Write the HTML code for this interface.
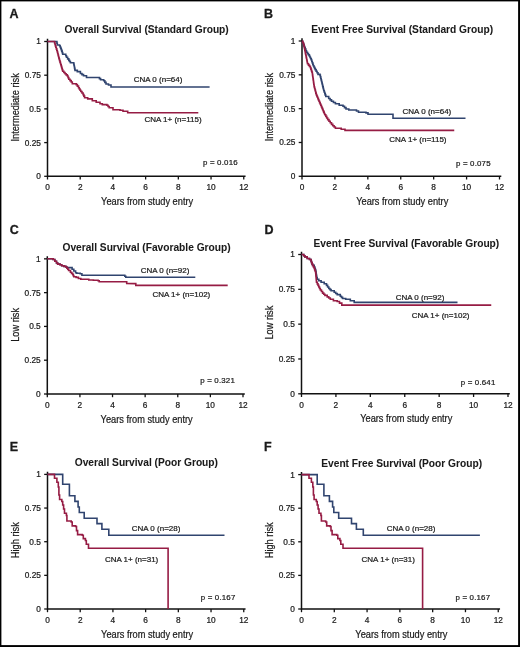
<!DOCTYPE html>
<html><head><meta charset="utf-8"><style>
html,body{margin:0;padding:0;background:#fff;}
body{width:520px;height:647px;overflow:hidden;position:relative;}
svg{position:absolute;left:0;top:0;font-family:"Liberation Sans", sans-serif;will-change:transform;}
</style></head><body>
<svg width="520" height="647" viewBox="0 0 520 647">
<text x="14.00" y="17.60" font-size="12.5" font-weight="bold" text-anchor="middle" fill="#1a1a1a" stroke="#1a1a1a" stroke-width="0.3">A</text>
<text x="146.65" y="33.00" font-size="10.2" font-weight="bold" text-anchor="middle" fill="#1a1a1a" stroke="#1a1a1a" stroke-width="0.05">Overall Survival (Standard Group)</text>
<path d="M47.50,38.80 V176.30 H245.55" fill="none" stroke="#111" stroke-width="1.5" stroke-linejoin="miter" stroke-linecap="butt"/>
<path d="M44.20,176.30 H47.50" fill="none" stroke="#111" stroke-width="1.3" stroke-linejoin="miter" stroke-linecap="butt"/>
<text x="40.90" y="179.20" font-size="8.3" font-weight="normal" text-anchor="end" fill="#1a1a1a" stroke="#1a1a1a" stroke-width="0.22">0</text>
<path d="M44.20,142.60 H47.50" fill="none" stroke="#111" stroke-width="1.3" stroke-linejoin="miter" stroke-linecap="butt"/>
<text x="40.90" y="145.50" font-size="8.3" font-weight="normal" text-anchor="end" fill="#1a1a1a" stroke="#1a1a1a" stroke-width="0.22">0.25</text>
<path d="M44.20,108.90 H47.50" fill="none" stroke="#111" stroke-width="1.3" stroke-linejoin="miter" stroke-linecap="butt"/>
<text x="40.90" y="111.80" font-size="8.3" font-weight="normal" text-anchor="end" fill="#1a1a1a" stroke="#1a1a1a" stroke-width="0.22">0.5</text>
<path d="M44.20,75.20 H47.50" fill="none" stroke="#111" stroke-width="1.3" stroke-linejoin="miter" stroke-linecap="butt"/>
<text x="40.90" y="78.10" font-size="8.3" font-weight="normal" text-anchor="end" fill="#1a1a1a" stroke="#1a1a1a" stroke-width="0.22">0.75</text>
<path d="M44.20,41.50 H47.50" fill="none" stroke="#111" stroke-width="1.3" stroke-linejoin="miter" stroke-linecap="butt"/>
<text x="40.90" y="44.40" font-size="8.3" font-weight="normal" text-anchor="end" fill="#1a1a1a" stroke="#1a1a1a" stroke-width="0.22">1</text>
<path d="M47.50,176.30 V179.50" fill="none" stroke="#111" stroke-width="1.3" stroke-linejoin="miter" stroke-linecap="butt"/>
<text x="47.50" y="190.30" font-size="8.3" font-weight="normal" text-anchor="middle" fill="#1a1a1a" stroke="#1a1a1a" stroke-width="0.22">0</text>
<path d="M80.21,176.30 V179.50" fill="none" stroke="#111" stroke-width="1.3" stroke-linejoin="miter" stroke-linecap="butt"/>
<text x="80.21" y="190.30" font-size="8.3" font-weight="normal" text-anchor="middle" fill="#1a1a1a" stroke="#1a1a1a" stroke-width="0.22">2</text>
<path d="M112.92,176.30 V179.50" fill="none" stroke="#111" stroke-width="1.3" stroke-linejoin="miter" stroke-linecap="butt"/>
<text x="112.92" y="190.30" font-size="8.3" font-weight="normal" text-anchor="middle" fill="#1a1a1a" stroke="#1a1a1a" stroke-width="0.22">4</text>
<path d="M145.62,176.30 V179.50" fill="none" stroke="#111" stroke-width="1.3" stroke-linejoin="miter" stroke-linecap="butt"/>
<text x="145.62" y="190.30" font-size="8.3" font-weight="normal" text-anchor="middle" fill="#1a1a1a" stroke="#1a1a1a" stroke-width="0.22">6</text>
<path d="M178.33,176.30 V179.50" fill="none" stroke="#111" stroke-width="1.3" stroke-linejoin="miter" stroke-linecap="butt"/>
<text x="178.33" y="190.30" font-size="8.3" font-weight="normal" text-anchor="middle" fill="#1a1a1a" stroke="#1a1a1a" stroke-width="0.22">8</text>
<path d="M211.04,176.30 V179.50" fill="none" stroke="#111" stroke-width="1.3" stroke-linejoin="miter" stroke-linecap="butt"/>
<text x="211.04" y="190.30" font-size="8.3" font-weight="normal" text-anchor="middle" fill="#1a1a1a" stroke="#1a1a1a" stroke-width="0.22">10</text>
<path d="M243.75,176.30 V179.50" fill="none" stroke="#111" stroke-width="1.3" stroke-linejoin="miter" stroke-linecap="butt"/>
<text x="243.75" y="190.30" font-size="8.3" font-weight="normal" text-anchor="middle" fill="#1a1a1a" stroke="#1a1a1a" stroke-width="0.22">12</text>
<text transform="translate(147.12,204.90) scale(0.89,1)" font-size="10.4" font-weight="normal" text-anchor="middle" fill="#1a1a1a" stroke="#1a1a1a" stroke-width="0.22">Years from study entry</text>
<text transform="translate(18.60,107.40) rotate(-90) scale(0.89,1)" font-size="10.4" text-anchor="middle" fill="#1a1a1a" stroke="#1a1a1a" stroke-width="0.22">Intermediate risk</text>
<path d="M47.50,41.50 L56.50,41.50 L56.90,41.50 L56.90,43.25 L57.30,43.25 L57.30,45.00 L59.60,45.00 L59.60,45.80 L60.13,45.80 L60.13,47.07 L60.67,47.07 L60.67,48.33 L61.20,48.33 L61.20,49.60 L61.70,49.60 L61.70,51.13 L62.20,51.13 L62.20,52.67 L62.70,52.67 L62.70,54.20 L65.00,54.20 L65.75,54.20 L65.75,55.75 L66.50,55.75 L66.50,57.30 L67.65,57.30 L67.65,58.85 L68.80,58.85 L68.80,60.40 L69.60,60.40 L69.60,61.55 L70.40,61.55 L70.40,62.70 L73.50,62.70 L73.75,62.70 L73.75,63.98 L74.00,63.98 L74.00,65.27 L74.25,65.27 L74.25,66.55 L74.50,66.55 L74.50,67.83 L74.75,67.83 L74.75,69.12 L75.00,69.12 L75.00,70.40 L77.30,70.40 L77.30,71.60 L80.40,71.60 L80.40,73.50 L81.95,73.50 L81.95,74.65 L83.50,74.65 L83.50,75.80 L86.50,75.80 L86.50,77.50 L98.30,77.50 L99.45,77.50 L99.45,78.65 L100.60,78.65 L100.60,79.80 L103.70,79.80 L103.70,80.80 L104.85,80.80 L104.85,82.40 L106.00,82.40 L106.00,84.00 L108.50,84.00 L108.50,85.00 L111.00,85.00 L111.00,87.00 L209.60,87.00" fill="none" stroke="#30446f" stroke-width="1.6" stroke-linejoin="miter" stroke-linecap="butt"/>
<path d="M47.50,41.50 L54.20,41.50 L54.60,41.50 L54.60,42.95 L55.00,42.95 L55.00,44.40 L55.40,44.40 L55.40,45.85 L55.80,45.85 L55.80,47.30 L56.30,47.30 L56.30,48.87 L56.80,48.87 L56.80,50.43 L57.30,50.43 L57.30,52.00 L57.67,52.00 L57.67,53.50 L58.05,53.50 L58.05,55.00 L58.42,55.00 L58.42,56.50 L58.80,56.50 L58.80,58.00 L59.20,58.00 L59.20,59.38 L59.60,59.38 L59.60,60.75 L60.00,60.75 L60.00,62.12 L60.40,62.12 L60.40,63.50 L60.78,63.50 L60.78,64.78 L61.17,64.78 L61.17,66.07 L61.55,66.07 L61.55,67.35 L61.93,67.35 L61.93,68.63 L62.32,68.63 L62.32,69.92 L62.70,69.92 L62.70,71.20 L63.85,71.20 L63.85,72.50 L65.00,72.50 L65.00,73.80 L66.15,73.80 L66.15,74.90 L67.30,74.90 L67.30,76.00 L68.05,76.00 L68.05,77.60 L68.80,77.60 L68.80,79.20 L70.00,79.20 L70.00,80.60 L71.20,80.60 L71.20,82.00 L72.30,82.00 L72.30,83.80 L76.20,83.80 L76.20,84.60 L77.35,84.60 L77.35,86.15 L78.50,86.15 L78.50,87.70 L79.27,87.70 L79.27,88.97 L80.03,88.97 L80.03,90.23 L80.80,90.23 L80.80,91.50 L81.95,91.50 L81.95,93.05 L83.10,93.05 L83.10,94.60 L83.85,94.60 L83.85,96.15 L84.60,96.15 L84.60,97.70 L87.70,97.70 L87.70,98.90 L92.30,98.90 L92.30,100.80 L96.20,100.80 L96.20,102.30 L100.00,102.30 L100.00,103.80 L102.30,103.80 L102.30,104.60 L106.90,104.60 L106.90,105.20 L108.05,105.20 L108.05,106.45 L109.20,106.45 L109.20,107.70 L113.00,107.70 L113.00,109.70 L120.00,109.70 L120.00,110.30 L123.00,110.30 L123.00,111.20 L127.70,111.20 L127.70,112.80 L198.30,112.80" fill="none" stroke="#961c44" stroke-width="1.6" stroke-linejoin="miter" stroke-linecap="butt"/>
<text x="158.05" y="81.60" font-size="8.0" font-weight="normal" text-anchor="middle" fill="#1a1a1a" stroke="#1a1a1a" stroke-width="0.22">CNA 0 (n=64)</text>
<text x="173.00" y="122.30" font-size="8.0" font-weight="normal" text-anchor="middle" fill="#1a1a1a" stroke="#1a1a1a" stroke-width="0.22">CNA 1+ (n=115)</text>
<text x="220.40" y="165.00" font-size="7.9" font-weight="normal" text-anchor="middle" fill="#1a1a1a" letter-spacing="0.18" stroke="#1a1a1a" stroke-width="0.22">p = 0.016</text>
<text x="268.45" y="17.60" font-size="12.5" font-weight="bold" text-anchor="middle" fill="#1a1a1a" stroke="#1a1a1a" stroke-width="0.3">B</text>
<text x="402.20" y="32.80" font-size="10.2" font-weight="bold" text-anchor="middle" fill="#1a1a1a" stroke="#1a1a1a" stroke-width="0.05">Event Free Survival (Standard Group)</text>
<path d="M302.00,38.30 V176.30 H501.30" fill="none" stroke="#111" stroke-width="1.5" stroke-linejoin="miter" stroke-linecap="butt"/>
<path d="M298.70,176.30 H302.00" fill="none" stroke="#111" stroke-width="1.3" stroke-linejoin="miter" stroke-linecap="butt"/>
<text x="295.40" y="179.20" font-size="8.3" font-weight="normal" text-anchor="end" fill="#1a1a1a" stroke="#1a1a1a" stroke-width="0.22">0</text>
<path d="M298.70,142.48 H302.00" fill="none" stroke="#111" stroke-width="1.3" stroke-linejoin="miter" stroke-linecap="butt"/>
<text x="295.40" y="145.38" font-size="8.3" font-weight="normal" text-anchor="end" fill="#1a1a1a" stroke="#1a1a1a" stroke-width="0.22">0.25</text>
<path d="M298.70,108.65 H302.00" fill="none" stroke="#111" stroke-width="1.3" stroke-linejoin="miter" stroke-linecap="butt"/>
<text x="295.40" y="111.55" font-size="8.3" font-weight="normal" text-anchor="end" fill="#1a1a1a" stroke="#1a1a1a" stroke-width="0.22">0.5</text>
<path d="M298.70,74.83 H302.00" fill="none" stroke="#111" stroke-width="1.3" stroke-linejoin="miter" stroke-linecap="butt"/>
<text x="295.40" y="77.73" font-size="8.3" font-weight="normal" text-anchor="end" fill="#1a1a1a" stroke="#1a1a1a" stroke-width="0.22">0.75</text>
<path d="M298.70,41.00 H302.00" fill="none" stroke="#111" stroke-width="1.3" stroke-linejoin="miter" stroke-linecap="butt"/>
<text x="295.40" y="43.90" font-size="8.3" font-weight="normal" text-anchor="end" fill="#1a1a1a" stroke="#1a1a1a" stroke-width="0.22">1</text>
<path d="M302.00,176.30 V179.50" fill="none" stroke="#111" stroke-width="1.3" stroke-linejoin="miter" stroke-linecap="butt"/>
<text x="302.00" y="190.30" font-size="8.3" font-weight="normal" text-anchor="middle" fill="#1a1a1a" stroke="#1a1a1a" stroke-width="0.22">0</text>
<path d="M334.92,176.30 V179.50" fill="none" stroke="#111" stroke-width="1.3" stroke-linejoin="miter" stroke-linecap="butt"/>
<text x="334.92" y="190.30" font-size="8.3" font-weight="normal" text-anchor="middle" fill="#1a1a1a" stroke="#1a1a1a" stroke-width="0.22">2</text>
<path d="M367.83,176.30 V179.50" fill="none" stroke="#111" stroke-width="1.3" stroke-linejoin="miter" stroke-linecap="butt"/>
<text x="367.83" y="190.30" font-size="8.3" font-weight="normal" text-anchor="middle" fill="#1a1a1a" stroke="#1a1a1a" stroke-width="0.22">4</text>
<path d="M400.75,176.30 V179.50" fill="none" stroke="#111" stroke-width="1.3" stroke-linejoin="miter" stroke-linecap="butt"/>
<text x="400.75" y="190.30" font-size="8.3" font-weight="normal" text-anchor="middle" fill="#1a1a1a" stroke="#1a1a1a" stroke-width="0.22">6</text>
<path d="M433.67,176.30 V179.50" fill="none" stroke="#111" stroke-width="1.3" stroke-linejoin="miter" stroke-linecap="butt"/>
<text x="433.67" y="190.30" font-size="8.3" font-weight="normal" text-anchor="middle" fill="#1a1a1a" stroke="#1a1a1a" stroke-width="0.22">8</text>
<path d="M466.58,176.30 V179.50" fill="none" stroke="#111" stroke-width="1.3" stroke-linejoin="miter" stroke-linecap="butt"/>
<text x="466.58" y="190.30" font-size="8.3" font-weight="normal" text-anchor="middle" fill="#1a1a1a" stroke="#1a1a1a" stroke-width="0.22">10</text>
<path d="M499.50,176.30 V179.50" fill="none" stroke="#111" stroke-width="1.3" stroke-linejoin="miter" stroke-linecap="butt"/>
<text x="499.50" y="190.30" font-size="8.3" font-weight="normal" text-anchor="middle" fill="#1a1a1a" stroke="#1a1a1a" stroke-width="0.22">12</text>
<text transform="translate(402.25,204.90) scale(0.89,1)" font-size="10.4" font-weight="normal" text-anchor="middle" fill="#1a1a1a" stroke="#1a1a1a" stroke-width="0.22">Years from study entry</text>
<text transform="translate(273.10,107.15) rotate(-90) scale(0.89,1)" font-size="10.4" text-anchor="middle" fill="#1a1a1a" stroke="#1a1a1a" stroke-width="0.22">Intermediate risk</text>
<path d="M302.00,41.00 L302.52,41.00 L302.52,42.30 L303.04,42.30 L303.04,43.60 L303.56,43.60 L303.56,44.90 L304.08,44.90 L304.08,46.20 L304.60,46.20 L304.60,47.50 L305.23,47.50 L305.23,49.10 L305.87,49.10 L305.87,50.70 L306.50,50.70 L306.50,52.30 L307.47,52.30 L307.47,53.60 L308.43,53.60 L308.43,54.90 L309.40,54.90 L309.40,56.20 L310.03,56.20 L310.03,57.47 L310.67,57.47 L310.67,58.73 L311.30,58.73 L311.30,60.00 L311.80,60.00 L311.80,61.45 L312.30,61.45 L312.30,62.90 L312.80,62.90 L312.80,64.35 L313.30,64.35 L313.30,65.80 L313.93,65.80 L313.93,67.07 L314.57,67.07 L314.57,68.33 L315.20,68.33 L315.20,69.60 L316.13,69.60 L316.13,71.20 L317.07,71.20 L317.07,72.80 L318.00,72.80 L318.00,74.40 L320.00,74.40 L320.00,75.40 L320.38,75.40 L320.38,76.92 L320.76,76.92 L320.76,78.44 L321.14,78.44 L321.14,79.96 L321.52,79.96 L321.52,81.48 L321.90,81.48 L321.90,83.00 L322.22,83.00 L322.22,84.30 L322.53,84.30 L322.53,85.60 L322.85,85.60 L322.85,86.90 L323.17,86.90 L323.17,88.20 L323.48,88.20 L323.48,89.50 L323.80,89.50 L323.80,90.80 L324.30,90.80 L324.30,92.22 L324.80,92.22 L324.80,93.65 L325.30,93.65 L325.30,95.08 L325.80,95.08 L325.80,96.50 L328.70,96.50 L328.70,98.50 L330.10,98.50 L330.10,99.90 L331.50,99.90 L331.50,101.30 L333.45,101.30 L333.45,102.55 L335.40,102.55 L335.40,103.80 L339.20,103.80 L339.20,105.20 L343.00,105.20 L343.00,106.20 L344.50,106.20 L344.50,107.60 L346.00,107.60 L346.00,109.00 L348.80,109.00 L348.80,110.00 L356.50,110.00 L356.50,111.00 L358.50,111.00 L358.50,112.30 L366.00,112.30 L366.00,112.90 L368.00,112.90 L368.00,114.20 L393.00,114.20 L393.00,118.25 L465.50,118.25" fill="none" stroke="#30446f" stroke-width="1.6" stroke-linejoin="miter" stroke-linecap="butt"/>
<path d="M302.00,41.00 L302.57,41.00 L302.57,42.20 L303.13,42.20 L303.13,43.40 L303.70,43.40 L303.70,44.60 L303.97,44.60 L303.97,45.97 L304.24,45.97 L304.24,47.34 L304.51,47.34 L304.51,48.71 L304.79,48.71 L304.79,50.09 L305.06,50.09 L305.06,51.46 L305.33,51.46 L305.33,52.83 L305.60,52.83 L305.60,54.20 L305.87,54.20 L305.87,55.57 L306.14,55.57 L306.14,56.94 L306.41,56.94 L306.41,58.31 L306.69,58.31 L306.69,59.69 L306.96,59.69 L306.96,61.06 L307.23,61.06 L307.23,62.43 L307.50,62.43 L307.50,63.80 L308.47,63.80 L308.47,65.10 L309.43,65.10 L309.43,66.40 L310.40,66.40 L310.40,67.70 L310.88,67.70 L310.88,69.15 L311.35,69.15 L311.35,70.60 L311.82,70.60 L311.82,72.05 L312.30,72.05 L312.30,73.50 L312.49,73.50 L312.49,74.85 L312.68,74.85 L312.68,76.20 L312.87,76.20 L312.87,77.55 L313.06,77.55 L313.06,78.90 L313.25,78.90 L313.25,80.25 L313.44,80.25 L313.44,81.60 L313.63,81.60 L313.63,82.95 L313.82,82.95 L313.82,84.30 L314.01,84.30 L314.01,85.65 L314.20,85.65 L314.20,87.00 L314.60,87.00 L314.60,88.52 L315.00,88.52 L315.00,90.04 L315.40,90.04 L315.40,91.56 L315.80,91.56 L315.80,93.08 L316.20,93.08 L316.20,94.60 L316.76,94.60 L316.76,95.94 L317.32,95.94 L317.32,97.28 L317.88,97.28 L317.88,98.62 L318.44,98.62 L318.44,99.96 L319.00,99.96 L319.00,101.30 L319.58,101.30 L319.58,102.64 L320.16,102.64 L320.16,103.98 L320.74,103.98 L320.74,105.32 L321.32,105.32 L321.32,106.66 L321.90,106.66 L321.90,108.00 L322.48,108.00 L322.48,109.36 L323.06,109.36 L323.06,110.72 L323.64,110.72 L323.64,112.08 L324.22,112.08 L324.22,113.44 L324.80,113.44 L324.80,114.80 L325.77,114.80 L325.77,116.40 L326.73,116.40 L326.73,118.00 L327.70,118.00 L327.70,119.60 L328.97,119.60 L328.97,121.20 L330.23,121.20 L330.23,122.80 L331.50,122.80 L331.50,124.40 L332.80,124.40 L332.80,125.70 L334.10,125.70 L334.10,127.00 L335.40,127.00 L335.40,128.30 L341.20,128.30 L341.20,129.20 L345.00,129.20 L345.00,130.40 L454.25,130.40" fill="none" stroke="#961c44" stroke-width="1.6" stroke-linejoin="miter" stroke-linecap="butt"/>
<text x="426.90" y="114.10" font-size="8.0" font-weight="normal" text-anchor="middle" fill="#1a1a1a" stroke="#1a1a1a" stroke-width="0.22">CNA 0 (n=64)</text>
<text x="417.90" y="141.60" font-size="8.0" font-weight="normal" text-anchor="middle" fill="#1a1a1a" stroke="#1a1a1a" stroke-width="0.22">CNA 1+ (n=115)</text>
<text x="473.35" y="165.90" font-size="7.9" font-weight="normal" text-anchor="middle" fill="#1a1a1a" letter-spacing="0.18" stroke="#1a1a1a" stroke-width="0.22">p = 0.075</text>
<text x="14.15" y="233.50" font-size="12.5" font-weight="bold" text-anchor="middle" fill="#1a1a1a" stroke="#1a1a1a" stroke-width="0.3">C</text>
<text x="146.55" y="250.50" font-size="10.2" font-weight="bold" text-anchor="middle" fill="#1a1a1a" stroke="#1a1a1a" stroke-width="0.05">Overall Survival (Favorable Group)</text>
<path d="M47.30,256.15 V394.00 H244.80" fill="none" stroke="#111" stroke-width="1.5" stroke-linejoin="miter" stroke-linecap="butt"/>
<path d="M44.00,394.00 H47.30" fill="none" stroke="#111" stroke-width="1.3" stroke-linejoin="miter" stroke-linecap="butt"/>
<text x="40.70" y="396.90" font-size="8.3" font-weight="normal" text-anchor="end" fill="#1a1a1a" stroke="#1a1a1a" stroke-width="0.22">0</text>
<path d="M44.00,360.21 H47.30" fill="none" stroke="#111" stroke-width="1.3" stroke-linejoin="miter" stroke-linecap="butt"/>
<text x="40.70" y="363.11" font-size="8.3" font-weight="normal" text-anchor="end" fill="#1a1a1a" stroke="#1a1a1a" stroke-width="0.22">0.25</text>
<path d="M44.00,326.43 H47.30" fill="none" stroke="#111" stroke-width="1.3" stroke-linejoin="miter" stroke-linecap="butt"/>
<text x="40.70" y="329.32" font-size="8.3" font-weight="normal" text-anchor="end" fill="#1a1a1a" stroke="#1a1a1a" stroke-width="0.22">0.5</text>
<path d="M44.00,292.64 H47.30" fill="none" stroke="#111" stroke-width="1.3" stroke-linejoin="miter" stroke-linecap="butt"/>
<text x="40.70" y="295.54" font-size="8.3" font-weight="normal" text-anchor="end" fill="#1a1a1a" stroke="#1a1a1a" stroke-width="0.22">0.75</text>
<path d="M44.00,258.85 H47.30" fill="none" stroke="#111" stroke-width="1.3" stroke-linejoin="miter" stroke-linecap="butt"/>
<text x="40.70" y="261.75" font-size="8.3" font-weight="normal" text-anchor="end" fill="#1a1a1a" stroke="#1a1a1a" stroke-width="0.22">1</text>
<path d="M47.30,394.00 V397.20" fill="none" stroke="#111" stroke-width="1.3" stroke-linejoin="miter" stroke-linecap="butt"/>
<text x="47.30" y="408.00" font-size="8.3" font-weight="normal" text-anchor="middle" fill="#1a1a1a" stroke="#1a1a1a" stroke-width="0.22">0</text>
<path d="M79.92,394.00 V397.20" fill="none" stroke="#111" stroke-width="1.3" stroke-linejoin="miter" stroke-linecap="butt"/>
<text x="79.92" y="408.00" font-size="8.3" font-weight="normal" text-anchor="middle" fill="#1a1a1a" stroke="#1a1a1a" stroke-width="0.22">2</text>
<path d="M112.53,394.00 V397.20" fill="none" stroke="#111" stroke-width="1.3" stroke-linejoin="miter" stroke-linecap="butt"/>
<text x="112.53" y="408.00" font-size="8.3" font-weight="normal" text-anchor="middle" fill="#1a1a1a" stroke="#1a1a1a" stroke-width="0.22">4</text>
<path d="M145.15,394.00 V397.20" fill="none" stroke="#111" stroke-width="1.3" stroke-linejoin="miter" stroke-linecap="butt"/>
<text x="145.15" y="408.00" font-size="8.3" font-weight="normal" text-anchor="middle" fill="#1a1a1a" stroke="#1a1a1a" stroke-width="0.22">6</text>
<path d="M177.77,394.00 V397.20" fill="none" stroke="#111" stroke-width="1.3" stroke-linejoin="miter" stroke-linecap="butt"/>
<text x="177.77" y="408.00" font-size="8.3" font-weight="normal" text-anchor="middle" fill="#1a1a1a" stroke="#1a1a1a" stroke-width="0.22">8</text>
<path d="M210.38,394.00 V397.20" fill="none" stroke="#111" stroke-width="1.3" stroke-linejoin="miter" stroke-linecap="butt"/>
<text x="210.38" y="408.00" font-size="8.3" font-weight="normal" text-anchor="middle" fill="#1a1a1a" stroke="#1a1a1a" stroke-width="0.22">10</text>
<path d="M243.00,394.00 V397.20" fill="none" stroke="#111" stroke-width="1.3" stroke-linejoin="miter" stroke-linecap="butt"/>
<text x="243.00" y="408.00" font-size="8.3" font-weight="normal" text-anchor="middle" fill="#1a1a1a" stroke="#1a1a1a" stroke-width="0.22">12</text>
<text transform="translate(146.65,422.60) scale(0.89,1)" font-size="10.4" font-weight="normal" text-anchor="middle" fill="#1a1a1a" stroke="#1a1a1a" stroke-width="0.22">Years from study entry</text>
<text transform="translate(18.60,324.93) rotate(-90) scale(0.89,1)" font-size="10.4" text-anchor="middle" fill="#1a1a1a" stroke="#1a1a1a" stroke-width="0.22">Low risk</text>
<path d="M47.30,258.80 L50.80,258.80 L53.10,258.80 L53.10,259.50 L54.80,259.50 L54.80,261.20 L56.50,261.20 L56.50,263.00 L57.70,263.00 L57.70,264.10 L60.00,264.10 L60.00,264.70 L61.70,264.70 L61.70,265.80 L64.00,265.80 L64.00,266.40 L65.80,266.40 L65.80,267.00 L66.90,267.00 L66.90,267.60 L70.40,267.60 L72.10,267.60 L72.10,269.30 L73.80,269.30 L73.80,271.00 L75.60,271.00 L75.60,272.80 L76.70,272.80 L76.70,273.30 L80.20,273.30 L80.20,273.70 L81.90,273.70 L81.90,275.20 L123.80,275.20 L124.80,275.20 L124.80,276.25 L125.80,276.25 L125.80,277.30 L195.30,277.30" fill="none" stroke="#30446f" stroke-width="1.6" stroke-linejoin="miter" stroke-linecap="butt"/>
<path d="M47.30,258.80 L50.80,258.80 L53.10,258.80 L53.10,259.50 L54.80,259.50 L54.80,261.20 L56.50,261.20 L56.50,263.00 L57.70,263.00 L57.70,264.10 L60.00,264.10 L60.00,264.70 L61.70,264.70 L61.70,265.80 L64.00,265.80 L64.00,266.40 L65.80,266.40 L65.80,267.00 L66.90,267.00 L66.90,268.10 L67.75,268.10 L67.75,269.30 L68.60,269.30 L68.60,270.50 L70.40,270.50 L70.40,272.20 L71.55,272.20 L71.55,273.35 L72.70,273.35 L72.70,274.50 L73.25,274.50 L73.25,275.65 L73.80,275.65 L73.80,276.80 L76.10,276.80 L76.10,277.40 L78.40,277.40 L78.40,278.50 L80.80,278.50 L80.80,279.10 L87.70,279.30 L88.80,279.30 L88.80,280.00 L93.40,280.00 L93.40,280.30 L98.10,280.30 L98.10,280.80 L99.20,280.80 L99.20,281.80 L123.80,281.80 L126.70,281.80 L126.70,283.40 L134.80,283.60 L135.80,283.60 L135.80,285.40 L227.70,285.40" fill="none" stroke="#961c44" stroke-width="1.6" stroke-linejoin="miter" stroke-linecap="butt"/>
<text x="165.00" y="273.00" font-size="8.0" font-weight="normal" text-anchor="middle" fill="#1a1a1a" stroke="#1a1a1a" stroke-width="0.22">CNA 0 (n=92)</text>
<text x="181.35" y="297.30" font-size="8.0" font-weight="normal" text-anchor="middle" fill="#1a1a1a" stroke="#1a1a1a" stroke-width="0.22">CNA 1+ (n=102)</text>
<text x="217.60" y="383.20" font-size="7.9" font-weight="normal" text-anchor="middle" fill="#1a1a1a" letter-spacing="0.18" stroke="#1a1a1a" stroke-width="0.22">p = 0.321</text>
<text x="269.00" y="233.75" font-size="12.5" font-weight="bold" text-anchor="middle" fill="#1a1a1a" stroke="#1a1a1a" stroke-width="0.3">D</text>
<text x="406.40" y="247.10" font-size="10.2" font-weight="bold" text-anchor="middle" fill="#1a1a1a" stroke="#1a1a1a" stroke-width="0.05">Event Free Survival (Favorable Group)</text>
<path d="M301.50,251.80 V393.80 H509.80" fill="none" stroke="#111" stroke-width="1.5" stroke-linejoin="miter" stroke-linecap="butt"/>
<path d="M298.20,393.80 H301.50" fill="none" stroke="#111" stroke-width="1.3" stroke-linejoin="miter" stroke-linecap="butt"/>
<text x="294.90" y="396.70" font-size="8.3" font-weight="normal" text-anchor="end" fill="#1a1a1a" stroke="#1a1a1a" stroke-width="0.22">0</text>
<path d="M298.20,358.98 H301.50" fill="none" stroke="#111" stroke-width="1.3" stroke-linejoin="miter" stroke-linecap="butt"/>
<text x="294.90" y="361.88" font-size="8.3" font-weight="normal" text-anchor="end" fill="#1a1a1a" stroke="#1a1a1a" stroke-width="0.22">0.25</text>
<path d="M298.20,324.15 H301.50" fill="none" stroke="#111" stroke-width="1.3" stroke-linejoin="miter" stroke-linecap="butt"/>
<text x="294.90" y="327.05" font-size="8.3" font-weight="normal" text-anchor="end" fill="#1a1a1a" stroke="#1a1a1a" stroke-width="0.22">0.5</text>
<path d="M298.20,289.32 H301.50" fill="none" stroke="#111" stroke-width="1.3" stroke-linejoin="miter" stroke-linecap="butt"/>
<text x="294.90" y="292.22" font-size="8.3" font-weight="normal" text-anchor="end" fill="#1a1a1a" stroke="#1a1a1a" stroke-width="0.22">0.75</text>
<path d="M298.20,254.50 H301.50" fill="none" stroke="#111" stroke-width="1.3" stroke-linejoin="miter" stroke-linecap="butt"/>
<text x="294.90" y="257.40" font-size="8.3" font-weight="normal" text-anchor="end" fill="#1a1a1a" stroke="#1a1a1a" stroke-width="0.22">1</text>
<path d="M301.50,393.80 V397.00" fill="none" stroke="#111" stroke-width="1.3" stroke-linejoin="miter" stroke-linecap="butt"/>
<text x="301.50" y="407.80" font-size="8.3" font-weight="normal" text-anchor="middle" fill="#1a1a1a" stroke="#1a1a1a" stroke-width="0.22">0</text>
<path d="M335.92,393.80 V397.00" fill="none" stroke="#111" stroke-width="1.3" stroke-linejoin="miter" stroke-linecap="butt"/>
<text x="335.92" y="407.80" font-size="8.3" font-weight="normal" text-anchor="middle" fill="#1a1a1a" stroke="#1a1a1a" stroke-width="0.22">2</text>
<path d="M370.33,393.80 V397.00" fill="none" stroke="#111" stroke-width="1.3" stroke-linejoin="miter" stroke-linecap="butt"/>
<text x="370.33" y="407.80" font-size="8.3" font-weight="normal" text-anchor="middle" fill="#1a1a1a" stroke="#1a1a1a" stroke-width="0.22">4</text>
<path d="M404.75,393.80 V397.00" fill="none" stroke="#111" stroke-width="1.3" stroke-linejoin="miter" stroke-linecap="butt"/>
<text x="404.75" y="407.80" font-size="8.3" font-weight="normal" text-anchor="middle" fill="#1a1a1a" stroke="#1a1a1a" stroke-width="0.22">6</text>
<path d="M439.17,393.80 V397.00" fill="none" stroke="#111" stroke-width="1.3" stroke-linejoin="miter" stroke-linecap="butt"/>
<text x="439.17" y="407.80" font-size="8.3" font-weight="normal" text-anchor="middle" fill="#1a1a1a" stroke="#1a1a1a" stroke-width="0.22">8</text>
<path d="M473.58,393.80 V397.00" fill="none" stroke="#111" stroke-width="1.3" stroke-linejoin="miter" stroke-linecap="butt"/>
<text x="473.58" y="407.80" font-size="8.3" font-weight="normal" text-anchor="middle" fill="#1a1a1a" stroke="#1a1a1a" stroke-width="0.22">10</text>
<path d="M508.00,393.80 V397.00" fill="none" stroke="#111" stroke-width="1.3" stroke-linejoin="miter" stroke-linecap="butt"/>
<text x="508.00" y="407.80" font-size="8.3" font-weight="normal" text-anchor="middle" fill="#1a1a1a" stroke="#1a1a1a" stroke-width="0.22">12</text>
<text transform="translate(406.25,422.40) scale(0.89,1)" font-size="10.4" font-weight="normal" text-anchor="middle" fill="#1a1a1a" stroke="#1a1a1a" stroke-width="0.22">Years from study entry</text>
<text transform="translate(273.10,322.65) rotate(-90) scale(0.89,1)" font-size="10.4" text-anchor="middle" fill="#1a1a1a" stroke="#1a1a1a" stroke-width="0.22">Low risk</text>
<path d="M301.60,254.50 L302.60,254.50 L303.75,254.50 L303.75,255.70 L304.90,255.70 L304.90,256.90 L307.20,256.90 L307.20,258.50 L309.50,258.50 L309.50,259.50 L311.10,259.50 L311.10,261.50 L311.60,261.50 L311.60,262.80 L312.10,262.80 L312.10,264.10 L312.60,264.10 L312.60,265.40 L314.20,265.40 L314.20,266.90 L314.70,266.90 L314.70,268.20 L315.20,268.20 L315.20,269.50 L315.70,269.50 L315.70,270.80 L315.90,270.80 L315.90,272.15 L316.10,272.15 L316.10,273.50 L316.30,273.50 L316.30,274.85 L316.50,274.85 L316.50,276.20 L316.85,276.20 L316.85,277.70 L317.20,277.70 L317.20,279.20 L318.80,279.20 L318.80,280.80 L321.10,280.80 L321.10,282.30 L324.20,282.30 L324.20,283.80 L326.50,283.80 L326.50,285.40 L327.65,285.40 L327.65,286.95 L328.80,286.95 L328.80,288.50 L329.95,288.50 L329.95,289.65 L331.10,289.65 L331.10,290.80 L334.20,290.80 L334.20,292.30 L335.70,292.30 L335.70,293.45 L337.20,293.45 L337.20,294.60 L340.30,294.60 L340.30,296.20 L341.45,296.20 L341.45,297.35 L342.60,297.35 L342.60,298.50 L345.70,298.50 L345.70,299.20 L350.30,299.20 L350.30,300.80 L354.20,300.80 L354.20,302.40 L457.50,302.40" fill="none" stroke="#30446f" stroke-width="1.6" stroke-linejoin="miter" stroke-linecap="butt"/>
<path d="M301.60,254.50 L302.60,254.50 L303.75,254.50 L303.75,255.70 L304.90,255.70 L304.90,256.90 L307.20,256.90 L307.20,258.50 L309.50,258.50 L309.50,259.50 L311.10,259.50 L311.10,261.50 L311.60,261.50 L311.60,262.80 L312.10,262.80 L312.10,264.10 L312.60,264.10 L312.60,265.40 L313.40,265.40 L313.40,266.95 L314.20,266.95 L314.20,268.50 L314.70,268.50 L314.70,270.03 L315.20,270.03 L315.20,271.57 L315.70,271.57 L315.70,273.10 L315.81,273.10 L315.81,274.41 L315.93,274.41 L315.93,275.73 L316.04,275.73 L316.04,277.04 L316.16,277.04 L316.16,278.36 L316.27,278.36 L316.27,279.67 L316.39,279.67 L316.39,280.99 L316.50,280.99 L316.50,282.30 L317.25,282.30 L317.25,283.85 L318.00,283.85 L318.00,285.40 L318.77,285.40 L318.77,286.93 L319.53,286.93 L319.53,288.47 L320.30,288.47 L320.30,290.00 L321.45,290.00 L321.45,291.55 L322.60,291.55 L322.60,293.10 L323.75,293.10 L323.75,294.25 L324.90,294.25 L324.90,295.40 L327.20,295.40 L327.20,296.90 L328.75,296.90 L328.75,298.05 L330.30,298.05 L330.30,299.20 L333.40,299.20 L333.40,300.80 L337.20,300.80 L337.20,301.50 L339.50,301.50 L339.50,303.10 L341.80,303.10 L341.80,305.10 L491.25,305.10" fill="none" stroke="#961c44" stroke-width="1.6" stroke-linejoin="miter" stroke-linecap="butt"/>
<text x="420.00" y="299.50" font-size="8.0" font-weight="normal" text-anchor="middle" fill="#1a1a1a" stroke="#1a1a1a" stroke-width="0.22">CNA 0 (n=92)</text>
<text x="440.60" y="317.75" font-size="8.0" font-weight="normal" text-anchor="middle" fill="#1a1a1a" stroke="#1a1a1a" stroke-width="0.22">CNA 1+ (n=102)</text>
<text x="478.10" y="384.60" font-size="7.9" font-weight="normal" text-anchor="middle" fill="#1a1a1a" letter-spacing="0.18" stroke="#1a1a1a" stroke-width="0.22">p = 0.641</text>
<text x="13.80" y="451.10" font-size="12.5" font-weight="bold" text-anchor="middle" fill="#1a1a1a" stroke="#1a1a1a" stroke-width="0.3">E</text>
<text x="146.35" y="465.60" font-size="10.2" font-weight="bold" text-anchor="middle" fill="#1a1a1a" stroke="#1a1a1a" stroke-width="0.05">Overall Survival (Poor Group)</text>
<path d="M47.50,471.70 V609.00 H245.55" fill="none" stroke="#111" stroke-width="1.5" stroke-linejoin="miter" stroke-linecap="butt"/>
<path d="M44.20,609.00 H47.50" fill="none" stroke="#111" stroke-width="1.3" stroke-linejoin="miter" stroke-linecap="butt"/>
<text x="40.90" y="611.90" font-size="8.3" font-weight="normal" text-anchor="end" fill="#1a1a1a" stroke="#1a1a1a" stroke-width="0.22">0</text>
<path d="M44.20,575.35 H47.50" fill="none" stroke="#111" stroke-width="1.3" stroke-linejoin="miter" stroke-linecap="butt"/>
<text x="40.90" y="578.25" font-size="8.3" font-weight="normal" text-anchor="end" fill="#1a1a1a" stroke="#1a1a1a" stroke-width="0.22">0.25</text>
<path d="M44.20,541.70 H47.50" fill="none" stroke="#111" stroke-width="1.3" stroke-linejoin="miter" stroke-linecap="butt"/>
<text x="40.90" y="544.60" font-size="8.3" font-weight="normal" text-anchor="end" fill="#1a1a1a" stroke="#1a1a1a" stroke-width="0.22">0.5</text>
<path d="M44.20,508.05 H47.50" fill="none" stroke="#111" stroke-width="1.3" stroke-linejoin="miter" stroke-linecap="butt"/>
<text x="40.90" y="510.95" font-size="8.3" font-weight="normal" text-anchor="end" fill="#1a1a1a" stroke="#1a1a1a" stroke-width="0.22">0.75</text>
<path d="M44.20,474.40 H47.50" fill="none" stroke="#111" stroke-width="1.3" stroke-linejoin="miter" stroke-linecap="butt"/>
<text x="40.90" y="477.30" font-size="8.3" font-weight="normal" text-anchor="end" fill="#1a1a1a" stroke="#1a1a1a" stroke-width="0.22">1</text>
<path d="M47.50,609.00 V612.20" fill="none" stroke="#111" stroke-width="1.3" stroke-linejoin="miter" stroke-linecap="butt"/>
<text x="47.50" y="623.00" font-size="8.3" font-weight="normal" text-anchor="middle" fill="#1a1a1a" stroke="#1a1a1a" stroke-width="0.22">0</text>
<path d="M80.21,609.00 V612.20" fill="none" stroke="#111" stroke-width="1.3" stroke-linejoin="miter" stroke-linecap="butt"/>
<text x="80.21" y="623.00" font-size="8.3" font-weight="normal" text-anchor="middle" fill="#1a1a1a" stroke="#1a1a1a" stroke-width="0.22">2</text>
<path d="M112.92,609.00 V612.20" fill="none" stroke="#111" stroke-width="1.3" stroke-linejoin="miter" stroke-linecap="butt"/>
<text x="112.92" y="623.00" font-size="8.3" font-weight="normal" text-anchor="middle" fill="#1a1a1a" stroke="#1a1a1a" stroke-width="0.22">4</text>
<path d="M145.62,609.00 V612.20" fill="none" stroke="#111" stroke-width="1.3" stroke-linejoin="miter" stroke-linecap="butt"/>
<text x="145.62" y="623.00" font-size="8.3" font-weight="normal" text-anchor="middle" fill="#1a1a1a" stroke="#1a1a1a" stroke-width="0.22">6</text>
<path d="M178.33,609.00 V612.20" fill="none" stroke="#111" stroke-width="1.3" stroke-linejoin="miter" stroke-linecap="butt"/>
<text x="178.33" y="623.00" font-size="8.3" font-weight="normal" text-anchor="middle" fill="#1a1a1a" stroke="#1a1a1a" stroke-width="0.22">8</text>
<path d="M211.04,609.00 V612.20" fill="none" stroke="#111" stroke-width="1.3" stroke-linejoin="miter" stroke-linecap="butt"/>
<text x="211.04" y="623.00" font-size="8.3" font-weight="normal" text-anchor="middle" fill="#1a1a1a" stroke="#1a1a1a" stroke-width="0.22">10</text>
<path d="M243.75,609.00 V612.20" fill="none" stroke="#111" stroke-width="1.3" stroke-linejoin="miter" stroke-linecap="butt"/>
<text x="243.75" y="623.00" font-size="8.3" font-weight="normal" text-anchor="middle" fill="#1a1a1a" stroke="#1a1a1a" stroke-width="0.22">12</text>
<text transform="translate(147.12,637.60) scale(0.89,1)" font-size="10.4" font-weight="normal" text-anchor="middle" fill="#1a1a1a" stroke="#1a1a1a" stroke-width="0.22">Years from study entry</text>
<text transform="translate(18.60,540.20) rotate(-90) scale(0.89,1)" font-size="10.4" text-anchor="middle" fill="#1a1a1a" stroke="#1a1a1a" stroke-width="0.22">High risk</text>
<path d="M47.50,474.40 L62.70,474.40 L62.70,484.20 L69.40,484.20 L69.40,495.70 L74.90,495.70 L74.90,501.40 L78.10,501.40 L78.10,507.00 L79.30,507.00 L79.30,512.50 L84.20,512.50 L84.20,518.20 L97.00,518.20 L97.00,523.60 L101.90,523.60 L101.90,529.30 L108.80,529.30 L108.80,535.20 L224.50,535.20" fill="none" stroke="#30446f" stroke-width="1.6" stroke-linejoin="miter" stroke-linecap="butt"/>
<path d="M47.50,474.40 L54.50,474.40 L54.50,478.20 L56.90,478.20 L56.90,482.30 L58.30,482.30 L58.30,487.00 L58.90,487.00 L58.90,495.00 L59.60,495.00 L59.60,499.50 L61.80,499.50 L61.80,501.50 L62.70,501.50 L62.70,505.00 L63.60,505.00 L63.60,509.00 L64.50,509.00 L64.50,513.20 L66.40,513.20 L66.40,515.50 L66.90,515.50 L66.90,521.00 L71.20,521.00 L71.20,522.00 L72.20,522.00 L72.20,525.90 L75.60,525.90 L75.60,526.50 L76.50,526.50 L76.50,530.60 L77.60,530.60 L77.60,534.60 L82.30,534.60 L82.30,535.20 L83.30,535.20 L83.30,538.60 L85.40,538.60 L85.40,540.50 L86.30,540.50 L86.30,544.20 L88.50,544.20 L88.50,548.20 L168.10,548.20 L168.10,609.00" fill="none" stroke="#961c44" stroke-width="1.6" stroke-linejoin="miter" stroke-linecap="butt"/>
<text x="156.05" y="530.90" font-size="8.0" font-weight="normal" text-anchor="middle" fill="#1a1a1a" stroke="#1a1a1a" stroke-width="0.22">CNA 0 (n=28)</text>
<text x="131.60" y="561.50" font-size="8.0" font-weight="normal" text-anchor="middle" fill="#1a1a1a" stroke="#1a1a1a" stroke-width="0.22">CNA 1+ (n=31)</text>
<text x="218.10" y="600.20" font-size="7.9" font-weight="normal" text-anchor="middle" fill="#1a1a1a" letter-spacing="0.18" stroke="#1a1a1a" stroke-width="0.22">p = 0.167</text>
<text x="267.70" y="451.10" font-size="12.5" font-weight="bold" text-anchor="middle" fill="#1a1a1a" stroke="#1a1a1a" stroke-width="0.3">F</text>
<text x="401.65" y="466.50" font-size="10.2" font-weight="bold" text-anchor="middle" fill="#1a1a1a" stroke="#1a1a1a" stroke-width="0.05">Event Free Survival (Poor Group)</text>
<path d="M301.50,471.90 V609.00 H500.05" fill="none" stroke="#111" stroke-width="1.5" stroke-linejoin="miter" stroke-linecap="butt"/>
<path d="M298.20,609.00 H301.50" fill="none" stroke="#111" stroke-width="1.3" stroke-linejoin="miter" stroke-linecap="butt"/>
<text x="294.90" y="611.90" font-size="8.3" font-weight="normal" text-anchor="end" fill="#1a1a1a" stroke="#1a1a1a" stroke-width="0.22">0</text>
<path d="M298.20,575.40 H301.50" fill="none" stroke="#111" stroke-width="1.3" stroke-linejoin="miter" stroke-linecap="butt"/>
<text x="294.90" y="578.30" font-size="8.3" font-weight="normal" text-anchor="end" fill="#1a1a1a" stroke="#1a1a1a" stroke-width="0.22">0.25</text>
<path d="M298.20,541.80 H301.50" fill="none" stroke="#111" stroke-width="1.3" stroke-linejoin="miter" stroke-linecap="butt"/>
<text x="294.90" y="544.70" font-size="8.3" font-weight="normal" text-anchor="end" fill="#1a1a1a" stroke="#1a1a1a" stroke-width="0.22">0.5</text>
<path d="M298.20,508.20 H301.50" fill="none" stroke="#111" stroke-width="1.3" stroke-linejoin="miter" stroke-linecap="butt"/>
<text x="294.90" y="511.10" font-size="8.3" font-weight="normal" text-anchor="end" fill="#1a1a1a" stroke="#1a1a1a" stroke-width="0.22">0.75</text>
<path d="M298.20,474.60 H301.50" fill="none" stroke="#111" stroke-width="1.3" stroke-linejoin="miter" stroke-linecap="butt"/>
<text x="294.90" y="477.50" font-size="8.3" font-weight="normal" text-anchor="end" fill="#1a1a1a" stroke="#1a1a1a" stroke-width="0.22">1</text>
<path d="M301.50,609.00 V612.20" fill="none" stroke="#111" stroke-width="1.3" stroke-linejoin="miter" stroke-linecap="butt"/>
<text x="301.50" y="623.00" font-size="8.3" font-weight="normal" text-anchor="middle" fill="#1a1a1a" stroke="#1a1a1a" stroke-width="0.22">0</text>
<path d="M334.29,609.00 V612.20" fill="none" stroke="#111" stroke-width="1.3" stroke-linejoin="miter" stroke-linecap="butt"/>
<text x="334.29" y="623.00" font-size="8.3" font-weight="normal" text-anchor="middle" fill="#1a1a1a" stroke="#1a1a1a" stroke-width="0.22">2</text>
<path d="M367.08,609.00 V612.20" fill="none" stroke="#111" stroke-width="1.3" stroke-linejoin="miter" stroke-linecap="butt"/>
<text x="367.08" y="623.00" font-size="8.3" font-weight="normal" text-anchor="middle" fill="#1a1a1a" stroke="#1a1a1a" stroke-width="0.22">4</text>
<path d="M399.88,609.00 V612.20" fill="none" stroke="#111" stroke-width="1.3" stroke-linejoin="miter" stroke-linecap="butt"/>
<text x="399.88" y="623.00" font-size="8.3" font-weight="normal" text-anchor="middle" fill="#1a1a1a" stroke="#1a1a1a" stroke-width="0.22">6</text>
<path d="M432.67,609.00 V612.20" fill="none" stroke="#111" stroke-width="1.3" stroke-linejoin="miter" stroke-linecap="butt"/>
<text x="432.67" y="623.00" font-size="8.3" font-weight="normal" text-anchor="middle" fill="#1a1a1a" stroke="#1a1a1a" stroke-width="0.22">8</text>
<path d="M465.46,609.00 V612.20" fill="none" stroke="#111" stroke-width="1.3" stroke-linejoin="miter" stroke-linecap="butt"/>
<text x="465.46" y="623.00" font-size="8.3" font-weight="normal" text-anchor="middle" fill="#1a1a1a" stroke="#1a1a1a" stroke-width="0.22">10</text>
<path d="M498.25,609.00 V612.20" fill="none" stroke="#111" stroke-width="1.3" stroke-linejoin="miter" stroke-linecap="butt"/>
<text x="498.25" y="623.00" font-size="8.3" font-weight="normal" text-anchor="middle" fill="#1a1a1a" stroke="#1a1a1a" stroke-width="0.22">12</text>
<text transform="translate(401.38,637.60) scale(0.89,1)" font-size="10.4" font-weight="normal" text-anchor="middle" fill="#1a1a1a" stroke="#1a1a1a" stroke-width="0.22">Years from study entry</text>
<text transform="translate(273.10,540.30) rotate(-90) scale(0.89,1)" font-size="10.4" text-anchor="middle" fill="#1a1a1a" stroke="#1a1a1a" stroke-width="0.22">High risk</text>
<path d="M301.50,474.60 L317.20,474.60 L317.20,484.20 L323.90,484.20 L323.90,495.70 L329.40,495.70 L329.40,501.40 L332.60,501.40 L332.60,507.00 L333.80,507.00 L333.80,512.50 L338.70,512.50 L338.70,518.20 L351.50,518.20 L351.50,523.60 L356.40,523.60 L356.40,529.30 L363.30,529.30 L363.30,535.20 L479.90,535.20" fill="none" stroke="#30446f" stroke-width="1.6" stroke-linejoin="miter" stroke-linecap="butt"/>
<path d="M301.50,474.60 L309.00,474.60 L309.00,478.20 L311.40,478.20 L311.40,482.30 L312.80,482.30 L312.80,487.00 L313.40,487.00 L313.40,495.00 L314.10,495.00 L314.10,499.50 L316.30,499.50 L316.30,501.50 L317.20,501.50 L317.20,505.00 L318.10,505.00 L318.10,509.00 L319.00,509.00 L319.00,513.20 L320.90,513.20 L320.90,515.50 L321.40,515.50 L321.40,521.00 L325.70,521.00 L325.70,522.00 L326.70,522.00 L326.70,525.90 L330.10,525.90 L330.10,526.50 L331.00,526.50 L331.00,530.60 L332.10,530.60 L332.10,534.60 L336.80,534.60 L336.80,535.20 L337.80,535.20 L337.80,538.60 L339.90,538.60 L339.90,540.50 L340.80,540.50 L340.80,544.20 L343.00,544.20 L343.00,548.20 L422.60,548.20 L422.60,609.00" fill="none" stroke="#961c44" stroke-width="1.6" stroke-linejoin="miter" stroke-linecap="butt"/>
<text x="411.05" y="531.40" font-size="8.0" font-weight="normal" text-anchor="middle" fill="#1a1a1a" stroke="#1a1a1a" stroke-width="0.22">CNA 0 (n=28)</text>
<text x="388.25" y="561.80" font-size="8.0" font-weight="normal" text-anchor="middle" fill="#1a1a1a" stroke="#1a1a1a" stroke-width="0.22">CNA 1+ (n=31)</text>
<text x="472.85" y="600.20" font-size="7.9" font-weight="normal" text-anchor="middle" fill="#1a1a1a" letter-spacing="0.18" stroke="#1a1a1a" stroke-width="0.22">p = 0.167</text>
<rect x="0" y="0" width="520" height="1.4" fill="#000"/>
<rect x="0" y="0" width="1.4" height="647" fill="#000"/>
<rect x="518.1" y="0" width="1.9" height="647" fill="#000"/>
<rect x="0" y="645.1" width="520" height="1.9" fill="#000"/>
</svg>
</body></html>
